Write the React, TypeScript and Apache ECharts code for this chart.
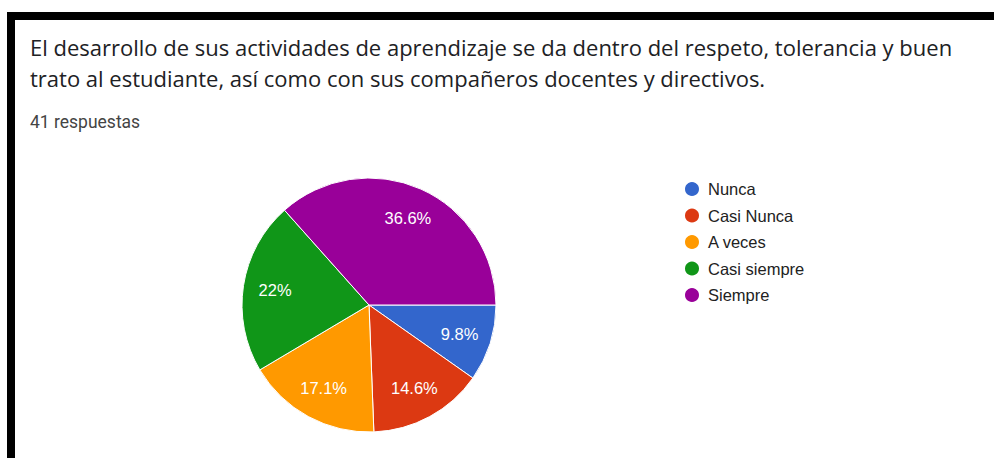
import React, { useEffect, useRef } from "react";
import * as echarts from "echarts";

const titleLines = [
  "El desarrollo de sus actividades de aprendizaje se da dentro del respeto, tolerancia y buen",
  "trato al estudiante, así como con sus compañeros docentes y directivos.",
];
const subtitle = "41 respuestas";
const categories = ["Nunca", "Casi Nunca", "A veces", "Casi siempre", "Siempre"];
const counts = [4, 6, 7, 9, 15];
const colors = ["#3366cc", "#dc3912", "#ff9900", "#109618", "#990099"];

export default function App() {
  const ref = useRef<HTMLDivElement>(null);
  useEffect(() => {
    if (!ref.current) return;
    const chart = echarts.init(ref.current, null, { renderer: "svg" });
    const total = counts.reduce((a, b) => a + b, 0);
    const data = categories.map((name, i) => ({
      name,
      value: counts[i],
      itemStyle: { color: colors[i] },
    }));
    const labelFont = "'Liberation Sans', Arial, sans-serif";
    chart.setOption({
      animation: false,
      backgroundColor: "#ffffff",
      title: [
        {
          text: titleLines.join("\n"),
          left: 30,
          top: 31,
          padding: 0,
          textStyle: {
            fontFamily: "'Open Sans', sans-serif",
            fontSize: 22,
            fontWeight: "normal",
            color: "#202124",
            lineHeight: 31,
          },
        },
        {
          text: subtitle,
          left: 30,
          top: 113,
          padding: 0,
          textStyle: {
            fontFamily: "Roboto, sans-serif",
            fontSize: 17.5,
            fontWeight: "normal",
            color: "#444444",
            lineHeight: 18,
          },
        },
      ],
      legend: {
        orient: "vertical",
        left: 683,
        top: 180,
        padding: 0,
        icon: "circle",
        itemWidth: 16,
        itemHeight: 16,
        itemGap: 8.5,
        data: categories,
        selectedMode: false,
        textStyle: {
          fontFamily: labelFont,
          fontSize: 16.5,
          lineHeight: 16,
          color: "#222222",
          padding: [0, 0, 0, 3],
        },
      },
      graphic: [
        { type: "rect", shape: { x: 7, y: 12, width: 987, height: 8 }, style: { fill: "#000" } },
        { type: "rect", shape: { x: 7, y: 12, width: 8, height: 446 }, style: { fill: "#000" } },
      ],
      series: [
        {
          type: "pie",
          center: [369, 305],
          radius: [0, 127],
          startAngle: 0,
          clockwise: true,
          data,
          label: { show: false },
          labelLine: { show: false },
          itemStyle: { borderColor: "#ffffff", borderWidth: 1 },
          emphasis: { disabled: true },
          silent: true,
        },
        {
          type: "pie",
          center: [369, 305],
          radius: [0, 184],
          startAngle: 0,
          clockwise: true,
          data: categories.map((name, i) => ({ name, value: counts[i] })),
          itemStyle: { color: "rgba(0,0,0,0)", borderWidth: 0 },
          label: {
            show: true,
            position: "inside",
            formatter: (p: any) =>
              `${Math.round((p.value / total) * 1000) / 10}%`,
            color: "#ffffff",
            fontFamily: labelFont,
            fontSize: 16.5,
          },
          labelLine: { show: false },
          emphasis: { disabled: true },
          silent: true,
        },
      ],
    });
    return () => chart.dispose();
  }, []);
  return (
    <div
      ref={ref}
      style={{ position: "fixed", left: 0, top: 0, width: 994, height: 458 }}
    />
  );
}
